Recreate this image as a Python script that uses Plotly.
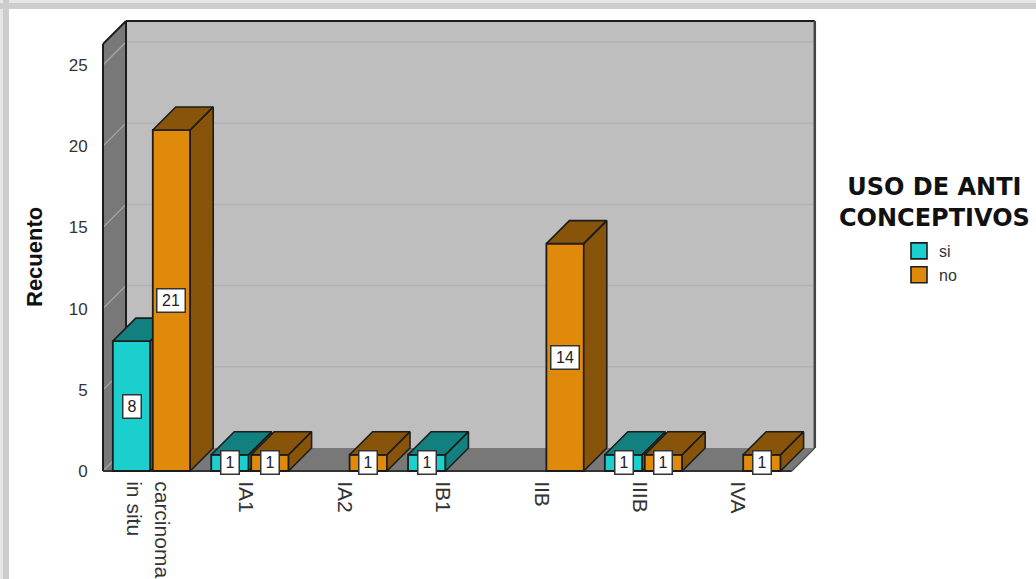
import plotly.graph_objects as go

# ---------- data ----------
categories = ["carcinoma<br>in situ", "IA1", "IA2", "IB1", "IIB", "IIIB", "IVA"]
si_values = [8, 1, None, 1, None, 1, None]
no_values = [21, 1, 1, None, 14, 1, 1]
y_ticks = [0, 5, 10, 15, 20, 25]
series_names = ["si", "no"]
axis_title = "Recuento"
legend_title = "USO DE ANTI<br>CONCEPTIVOS"

# ---------- style / geometry ----------
W, H = 1036, 579
PX_X = 98.4      # pixels per category
PX_Y = 16.24     # pixels per count
DEPTH = 23       # 3-D depth in pixels
LEFT, FLOOR, PAD = 103, 471, 3
DX, DY = DEPTH / PX_X, DEPTH / PX_Y
BAR_W = 0.38
SI_LEFT, NO_LEFT = -0.40, 0.006

C_SI, C_SI_D = "#1BCFCF", "#12807F"
C_NO, C_NO_D = "#E08A0C", "#875409"
C_WALL, C_SIDE = "#BEBEBE", "#787878"
C_EDGE = "#1c1c1c"

x0 = -0.5
x1 = x0 + len(categories)
y_top = (FLOOR - 21) / PX_Y - DY     # height of the front plane's top edge
x_range = [x0 - PAD / PX_X, x1 + DX + PAD / PX_X]
y_range = [-PAD / PX_Y, y_top + DY + PAD / PX_Y]
dom_x = [(LEFT - PAD) / W, (LEFT + (x1 - x0 + DX) * PX_X + PAD) / W]
dom_y = [1 - (FLOOR + PAD) / H, 1 - (21 - PAD) / H]

fig = go.Figure()


def poly(points):
    xs = [p[0] for p in points] + [points[0][0], None]
    ys = [p[1] for p in points] + [points[0][1], None]
    return xs, ys


def add_poly(polys, fill, line, width, xa="x", ya="y"):
    xs, ys = [], []
    for p in polys:
        a, b = poly(p)
        xs += a
        ys += b
    fig.add_trace(go.Scatter(x=xs, y=ys, mode="lines", fill="toself", fillcolor=fill,
                             line=dict(color=line, width=width), hoverinfo="skip",
                             showlegend=False, xaxis=xa, yaxis=ya))


def add_lines(segments, color, width):
    xs, ys = [], []
    for a, b in segments:
        xs += [a[0], b[0], None]
        ys += [a[1], b[1], None]
    fig.add_trace(go.Scatter(x=xs, y=ys, mode="lines", line=dict(color=color, width=width),
                             hoverinfo="skip", showlegend=False))


# back wall, left wall, floor
add_poly([[(x0 + DX, DY), (x1 + DX, DY), (x1 + DX, y_top + DY), (x0 + DX, y_top + DY)]],
         C_WALL, C_WALL, 0)
add_poly([[(x0, 0), (x0 + DX, DY), (x0 + DX, y_top + DY), (x0, y_top)]], C_SIDE, C_SIDE, 0)
add_poly([[(x0, 0), (x1, 0), (x1 + DX, DY), (x0 + DX, DY)]], C_SIDE, C_SIDE, 0)
# grid lines on the back wall and on the left wall
add_lines([((x0 + DX, v + DY), (x1 + DX, v + DY)) for v in y_ticks[1:]], "#B2B2B2", 1.5)
add_lines([((x0, v), (x0 + DX, v + DY)) for v in y_ticks], "#A6A6A6", 1.2)
# outlines
add_lines([((x0, 0), (x0, y_top)), ((x0, y_top), (x0 + DX, y_top + DY)),
           ((x0 + DX, y_top + DY), (x1 + DX, y_top + DY)), ((x0 + DX, DY), (x0 + DX, y_top + DY))],
          C_EDGE, 2)
add_lines([((x1 + DX, DY), (x1 + DX, y_top + DY))], "#444444", 2.5)
add_lines([((x0, 0), (x1, 0))], "#333333", 2)
add_lines([((x1, 0), (x1 + DX, DY))], "#555555", 1.5)


def add_series(values, name, left, front, dark, xa, ya):
    polys = []
    for i, v in enumerate(values):
        if v is None:
            continue
        l, r = i + left, i + left + BAR_W
        polys.append([(l, v), (r, v), (r + DX, v + DY), (l + DX, v + DY)])
        polys.append([(r, 0), (r + DX, DY), (r + DX, v + DY), (r, v)])
    add_poly(polys, dark, C_EDGE, 1.6, xa, ya)
    fig.add_trace(go.Bar(x=list(range(len(values))), y=values, name=name, offset=left, width=BAR_W,
                         marker=dict(color=front, line=dict(color=C_EDGE, width=1.8)),
                         showlegend=False, hoverinfo="skip", xaxis=xa, yaxis=ya))
    # legend entry
    fig.add_trace(go.Scatter(x=[None], y=[None], mode="markers", name=name,
                             marker=dict(symbol="square", size=18, color=front,
                                         line=dict(color=C_EDGE, width=1.6)),
                             xaxis=xa, yaxis=ya))


add_series(si_values, series_names[0], SI_LEFT, C_SI, C_SI_D, "x2", "y2")
add_series(no_values, series_names[1], NO_LEFT, C_NO, C_NO_D, "x3", "y3")

annotations = []
for values, left in ((si_values, SI_LEFT), (no_values, NO_LEFT)):
    for i, v in enumerate(values):
        if v is None:
            continue
        annotations.append(dict(x=i + left + BAR_W / 2, y=v / 2, xref="x", yref="y", text=str(v),
                                showarrow=False, bgcolor="white", bordercolor="#333333", borderwidth=1.5,
                                borderpad=0, width=17 if v < 10 else 27, height=22,
                                font=dict(family="Liberation Sans", size=16, color="#222222")))
annotations.append(dict(x=35 / W, y=1 - 257 / H, xref="paper", yref="paper", text=axis_title,
                        textangle=-90, showarrow=False, xanchor="center", yanchor="middle",
                        font=dict(family="Liberation Sans", size=22, color="#111111", weight="bold")))
annotations.append(dict(x=934 / W, y=1 - 202 / H, xref="paper", yref="paper", text=legend_title,
                        showarrow=False, xanchor="center", yanchor="middle", align="center",
                        font=dict(family="DejaVu Sans", size=24, color="#111111", weight="bold")))

shapes = []
for (a, b, col) in ((0, 3, "#E6E6E6"), (3, 9, "#CDCDCD")):
    shapes.append(dict(type="rect", xref="paper", yref="paper", x0=0, x1=1, y0=1 - b / H, y1=1 - a / H,
                       fillcolor=col, line_width=0, layer="below"))
    shapes.append(dict(type="rect", xref="paper", yref="paper", x0=a / W, x1=b / W, y0=0, y1=1,
                       fillcolor=col, line_width=0, layer="below"))

hidden = dict(visible=False, fixedrange=True)
fig.update_layout(
    width=W, height=H, margin=dict(l=0, r=0, t=0, b=0), paper_bgcolor="white", plot_bgcolor="rgba(0,0,0,0)",
    barmode="overlay", showlegend=True, shapes=shapes, annotations=annotations,
    legend=dict(x=899 / W, y=1 - 234 / H, xanchor="left", yanchor="top", bgcolor="rgba(0,0,0,0)",
                itemsizing="trace", itemwidth=30,
                font=dict(family="Liberation Sans", size=16, color="#333333")),
    xaxis=dict(domain=dom_x, range=x_range, showgrid=False, zeroline=False, showline=False, automargin=False,
               tickmode="array", tickvals=[i - 0.045 for i in range(len(categories))], ticktext=categories,
               tickangle=90, ticks="outside", ticklen=2, tickcolor="rgba(0,0,0,0)",
               tickfont=dict(family="Liberation Sans", size=21, color="#333333")),
    yaxis=dict(domain=dom_y, range=y_range, showgrid=False, zeroline=False, showline=False, automargin=False,
               tickmode="array", tickvals=y_ticks, ticks="outside", ticklen=8, tickcolor="rgba(0,0,0,0)",
               tickfont=dict(family="Liberation Sans", size=17, color="#333333")),
    xaxis2=dict(domain=dom_x, range=x_range, overlaying="x", **hidden),
    yaxis2=dict(domain=dom_y, range=y_range, overlaying="y", **hidden),
    xaxis3=dict(domain=dom_x, range=x_range, overlaying="x", **hidden),
    yaxis3=dict(domain=dom_y, range=y_range, overlaying="y", **hidden),
)

fig.write_html("out.html", post_script="document.body.style.margin='0';",
               config=dict(displayModeBar=False))
